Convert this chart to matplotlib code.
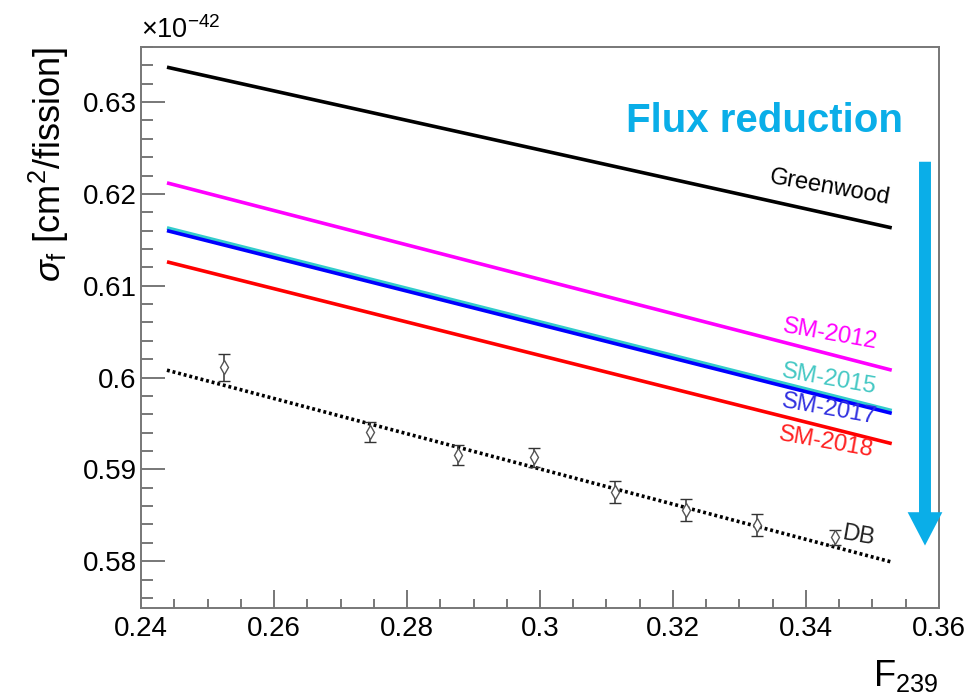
import matplotlib
matplotlib.use("Agg")
import matplotlib.pyplot as plt
from matplotlib.ticker import MultipleLocator

plt.rcParams["font.family"] = ["Liberation Sans", "DejaVu Sans"]
plt.rcParams["mathtext.fontset"] = "custom"
plt.rcParams["mathtext.rm"] = "Liberation Sans"
plt.rcParams["mathtext.it"] = "Liberation Sans:italic"

# F239 range covered by the model predictions (end points of each line)
F_RANGE = [0.2439, 0.3529]
# sigma_f [1e-42 cm^2/fission] at both ends of F_RANGE
GREENWOOD = [0.6338, 0.6163]
SM2012 = [0.6212, 0.6008]
SM2015 = [0.6163, 0.5964]
SM2017 = [0.6160, 0.5961]
SM2018 = [0.6126, 0.5928]
DB_FIT = [0.6008, 0.5799]

# Daya Bay evolution data
DB_F = [0.2525, 0.2744, 0.2877, 0.2991, 0.3113, 0.3220, 0.3326, 0.3444]
DB_SIG = [0.6011, 0.5941, 0.5916, 0.5913, 0.5875, 0.5856, 0.5839, 0.5826]
DB_ERR = [0.0015, 0.0011, 0.0011, 0.0010, 0.0012, 0.0012, 0.0012, 0.0008]

# (label, values, line colour, text colour, text position)
MODELS = [
    ("Greenwood", GREENWOOD, "black", "black", (0.3436, 0.6207)),
    ("SM-2012", SM2012, "#ff00ff", "#ff00ff", (0.3436, 0.6047)),
    ("SM-2015", SM2015, "#33cccc", "#44c8c4", (0.3435, 0.5998)),
    ("SM-2017", SM2017, "#0000ff", "#3030e0", (0.3435, 0.5965)),
    ("SM-2018", SM2018, "#ff0000", "#ff2020", (0.3430, 0.5929)),
]
ARROW_COL = "#0aaee8"
AX_COL = "#777777"

fig = plt.figure(figsize=(9.7, 6.95), dpi=100)
ax = fig.add_axes([0.1454, 0.1252, 0.9680 - 0.1454, 0.9324 - 0.1252])

for name, vals, lc, tc, (tx, ty) in MODELS:
    ax.plot(F_RANGE, vals, color=lc, lw=2.6, solid_capstyle="butt")
    ax.text(tx, ty, name, color=tc, fontsize=17, rotation=-10,
            ha="center", va="center")

ax.plot(F_RANGE, DB_FIT, color="black", lw=2.6, ls=(0, (0.8, 0.8)))
ax.errorbar(DB_F, DB_SIG, yerr=DB_ERR, fmt="d", ms=7, mfc="white",
            mec="#555555", mew=1.0, ecolor="#333333", elinewidth=1.1,
            capsize=4, capthick=1.1, zorder=4)
ax.text(0.3478, 0.5828, "DB", color="#222222", fontsize=17, rotation=-10,
        ha="center", va="center")

# flux reduction arrow
ax.annotate("", xy=(0.3579, 0.5817), xytext=(0.3579, 0.6235),
            arrowprops=dict(arrowstyle="simple,head_length=1.2,head_width=1.25,tail_width=0.43",
                            mutation_scale=20, color=ARROW_COL, lw=0,
                            shrinkA=0, shrinkB=0),
            annotation_clip=False)
ax.text(0.3338, 0.6279, "Flux reduction", color=ARROW_COL, fontsize=29,
        fontweight="bold", ha="center", va="center")

ax.set_xlim(0.24, 0.36)
ax.set_ylim(0.5749, 0.636)
ax.xaxis.set_major_locator(MultipleLocator(0.02))
ax.xaxis.set_minor_locator(MultipleLocator(0.005))
ax.yaxis.set_major_locator(MultipleLocator(0.01))
ax.yaxis.set_minor_locator(MultipleLocator(0.002))
ax.xaxis.set_major_formatter(lambda v, p: f"{v:g}")
ax.yaxis.set_major_formatter(lambda v, p: f"{v:g}")

ax.tick_params(axis="both", which="both", direction="in", color=AX_COL,
               width=1.4, top=False, right=False, labelsize=20)
ax.tick_params(axis="x", which="major", length=13, pad=6)
ax.tick_params(axis="x", which="minor", length=6.5)
ax.tick_params(axis="y", which="major", length=17, pad=3)
ax.tick_params(axis="y", which="minor", length=8.5)
for s in ax.spines.values():
    s.set_color(AX_COL)
    s.set_linewidth(1.4)

fig.text(49 / 970, 1 - 47 / 695, r"$\sigma_{\rm f}$ [cm$^{2}$/fission]",
         rotation=90, ha="center", va="top", fontsize=26)
fig.text(938 / 970, 1 - 694 / 695, r"F$_{239}$", ha="right", va="bottom",
         fontsize=26)
fig.text(141 / 970, 1 - 44 / 695, r"$\times$10$^{-42}$", ha="left",
         va="bottom", fontsize=19.5)

fig.savefig("out.png", dpi=100)
